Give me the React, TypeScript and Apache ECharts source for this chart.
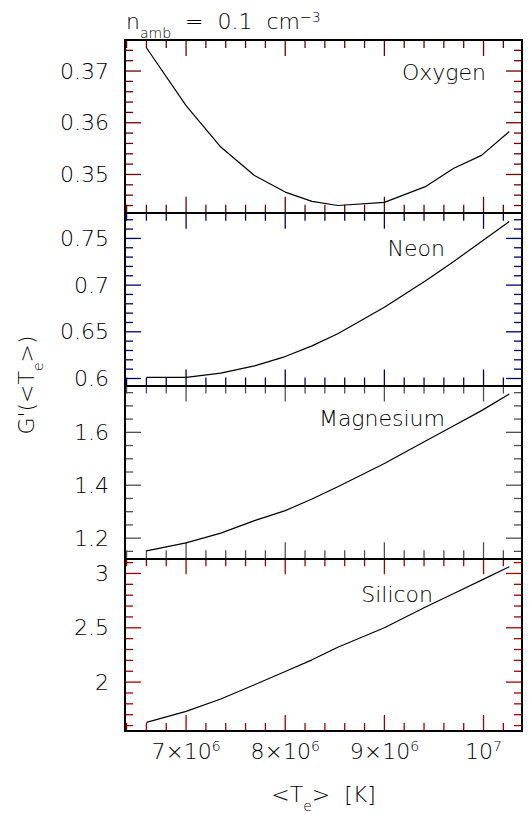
import React, { useEffect, useRef } from "react";
import * as echarts from "echarts";

// <Te> values (K) of the model points
const temps = [6.6e6, 7.0e6, 7.35e6, 7.69e6, 8.0e6, 8.27e6, 8.53e6, 9.0e6, 9.42e6, 9.7e6, 9.98e6, 10.26e6];
const oxygen = [0.3745, 0.3633, 0.3553, 0.3498, 0.3466, 0.3448, 0.344, 0.3446, 0.3477, 0.3512, 0.3537, 0.3583];
const neon = [0.6011, 0.6011, 0.6057, 0.6135, 0.6235, 0.6349, 0.648, 0.6763, 0.705, 0.7254, 0.7468, 0.7681];
const magnesium = [1.152, 1.182, 1.219, 1.266, 1.304, 1.348, 1.394, 1.482, 1.568, 1.625, 1.682, 1.745];
const silicon = [1.63, 1.731, 1.844, 1.976, 2.098, 2.205, 2.321, 2.5, 2.693, 2.815, 2.939, 3.061];

const elementNames = ["Oxygen", "Neon", "Magnesium", "Silicon"];
const xRange = [6.384e6, 1.0388e7];
const xMajorTicks = [7e6, 8e6, 9e6, 1e7];
const xMinorStep = 0.2e6;

const yRanges = [
  [0.3426, 0.376],
  [0.5925, 0.7775],
  [1.124, 1.777],
  [1.55, 3.14],
];
const yMajorTicks = [
  [0.35, 0.36, 0.37],
  [0.6, 0.65, 0.7, 0.75],
  [1.2, 1.4, 1.6],
  [2, 2.5, 3],
];
const yMinorSteps = [0.002, 0.01, 0.05, 0.1];

const FONT = "DejaVu Sans";
const FW = 200;
const GRID_TOP = 40;
const GRID_H = 172.75;
const LEFT = 125;
const RIGHT = 10;
const MAJOR_LEN = 16;
const MINOR_LEN = 8;
const TICK_W = 1.3;
const FRAME_W = 2;
const TICK_COLS = ["#700000", "#000070", "#505050", "#a00000"];

function steps(lo: number, hi: number, step: number): number[] {
  const out: number[] = [];
  const start = Math.ceil(lo / step - 1e-9);
  const end = Math.floor(hi / step + 1e-9);
  for (let k = start; k <= end; k++) {
    const v = +(k * step).toFixed(6);
    if (v > lo && v < hi) out.push(v);
  }
  return out;
}

const lineCol = "#000";

function buildOption() {
  const datasets = [oxygen, neon, magnesium, silicon];
  const grids: any[] = [];
  const xAxes: any[] = [];
  const yAxes: any[] = [];
  const seriesList: any[] = [];

  datasets.forEach((vals, i) => {
    grids.push({ left: LEFT, right: RIGHT, top: GRID_TOP + i * GRID_H, height: GRID_H });
    const isLast = i === datasets.length - 1;
    xAxes.push(
      {
        type: "value",
        gridIndex: i,
        position: "bottom",
        min: xRange[0],
        max: xRange[1],
        axisLine: { show: true, onZero: false, lineStyle: { color: lineCol, width: FRAME_W } },
        axisTick: { show: false },
        axisLabel: isLast
          ? {
              show: true,
              customValues: xMajorTicks,
              margin: 8,
              formatter: (v: number) =>
                v === 1e7 ? "{b|10}{p|7}" : "{b|" + Math.round(v / 1e6) + "×10}{p|6}",
              rich: {
                b: { fontSize: 22, fontFamily: FONT, fontWeight: FW, color: "#000" },
                p: { fontSize: 14, fontFamily: FONT, fontWeight: FW, color: "#000", padding: [0, 0, 10, 0] },
              },
            }
          : { show: false },
        splitLine: { show: false },
        name: isLast ? "{b|<T}{s|e}{b|>  [K]}" : "",
        nameLocation: "middle",
        nameGap: 52,
        nameTextStyle: {
          rich: {
            b: { fontSize: 22, fontFamily: FONT, fontWeight: FW, color: "#000", lineHeight: 22, verticalAlign: "top" },
            s: { fontSize: 14, fontFamily: FONT, fontWeight: FW, color: "#000", padding: [16, 0, 0, 0], verticalAlign: "top" },
          },
        },
      },
      {
        type: "value",
        gridIndex: i,
        position: "top",
        min: xRange[0],
        max: xRange[1],
        axisLine: { show: true, onZero: false, lineStyle: { color: lineCol, width: FRAME_W } },
        axisTick: { show: false },
        axisLabel: { show: false },
        splitLine: { show: false },
      }
    );
    yAxes.push(
      {
        type: "value",
        gridIndex: i,
        position: "left",
        min: yRanges[i][0],
        max: yRanges[i][1],
        axisLine: { show: true, onZero: false, lineStyle: { color: lineCol, width: FRAME_W } },
        axisTick: { show: false },
        axisLabel: {
          show: true,
          customValues: yMajorTicks[i],
          margin: 16,
          fontSize: 22,
          fontFamily: FONT,
          fontWeight: FW,
          color: "#000",
          formatter: (v: number) => String(v),
        },
        splitLine: { show: false },
      },
      {
        type: "value",
        gridIndex: i,
        position: "right",
        min: yRanges[i][0],
        max: yRanges[i][1],
        axisLine: { show: true, onZero: false, lineStyle: { color: lineCol, width: FRAME_W } },
        axisTick: { show: false },
        axisLabel: { show: false },
        splitLine: { show: false },
      }
    );
    seriesList.push({
      type: "line",
      name: elementNames[i],
      xAxisIndex: 2 * i,
      yAxisIndex: 2 * i,
      data: temps.map((t, k) => [t, vals[k]]),
      symbol: "none",
      showSymbol: false,
      lineStyle: { color: lineCol, width: 1.2 },
      silent: true,
      z: 6,
    });
  });

  return {
    animation: false,
    backgroundColor: "#fff",
    grid: grids,
    xAxis: xAxes,
    yAxis: yAxes,
    series: seriesList,
  };
}

// Inward tick marks on all four sides of a panel, placed through the axes' scales
function graphicTicks(chart: any, i: number) {
  const out: any[] = [];
  const [ymin, ymax] = yRanges[i];
  const [xmin, xmax] = xRange;
  const finder = { xAxisIndex: 2 * i, yAxisIndex: 2 * i };
  const px = (x: number, y: number) => chart.convertToPixel(finder, [x, y]);
  const xMinor = steps(xmin, xmax, xMinorStep).filter((v) => !xMajorTicks.some((m) => Math.abs(m - v) < 1));
  const yMinor = steps(ymin, ymax, yMinorSteps[i]).filter(
    (v) => !yMajorTicks[i].some((m) => Math.abs(m - v) < 1e-9)
  );
  const h = TICK_W / 2;
  const seg = (x1: number, y1: number, x2: number, y2: number) => {
    const vertical = Math.abs(x1 - x2) < 1e-6;
    out.push({
      type: "rect",
      shape: {
        x: Math.min(x1, x2) - (vertical ? h : 0),
        y: Math.min(y1, y2) - (vertical ? 0 : h),
        width: vertical ? TICK_W : Math.abs(x2 - x1),
        height: vertical ? Math.abs(y2 - y1) : TICK_W,
      },
      style: { fill: TICK_COLS[i] },
    });
  };
  const addX = (v: number, len: number) => {
    const b = px(v, ymin);
    const t = px(v, ymax);
    seg(b[0], b[1], b[0], b[1] - len);
    seg(t[0], t[1], t[0], t[1] + len);
  };
  const addY = (v: number, len: number) => {
    const l = px(xmin, v);
    const r = px(xmax, v);
    seg(l[0], l[1], l[0] + len, l[1]);
    seg(r[0], r[1], r[0] - len, r[1]);
  };
  xMajorTicks.forEach((v) => addX(v, MAJOR_LEN));
  xMinor.forEach((v) => addX(v, MINOR_LEN));
  yMajorTicks[i].forEach((v) => addY(v, MAJOR_LEN));
  yMinor.forEach((v) => addY(v, MINOR_LEN));
  return out;
}

function buildTexts() {
  const labelPos = [
    [486, 72],
    [445, 248],
    [445, 418],
    [433, 594],
  ];
  const graphics: any[] = elementNames.map((n, i) => ({
    type: "text",
    x: labelPos[i][0],
    y: labelPos[i][1],
    style: {
      text: n,
      fontSize: 22,
      fontFamily: FONT,
      fontWeight: FW,
      fill: "#000",
      align: "right",
      verticalAlign: "middle",
    },
  }));

  graphics.push({
    type: "text",
    x: 126,
    y: 10,
    style: {
      text: "{a|n}{s|amb}{a|  =  0.1  cm}{p|−3}",
      align: "left",
      verticalAlign: "top",
      rich: {
        a: { fontSize: 22, fontFamily: FONT, fontWeight: FW, fill: "#000", lineHeight: 22, verticalAlign: "top" },
        s: { fontSize: 14, fontFamily: FONT, fontWeight: FW, fill: "#000", padding: [16, 0, 0, 0], verticalAlign: "top" },
        p: { fontSize: 14, fontFamily: FONT, fontWeight: FW, fill: "#000", verticalAlign: "top" },
      },
    },
  });

  graphics.push({
    type: "text",
    x: 30,
    y: 385,
    rotation: Math.PI / 2,
    style: {
      text: "{a|G'(<T}{s|e}{a|>)}",
      align: "center",
      verticalAlign: "middle",
      rich: {
        a: { fontSize: 22, fontFamily: FONT, fontWeight: FW, fill: "#000", lineHeight: 22, verticalAlign: "top" },
        s: { fontSize: 14, fontFamily: FONT, fontWeight: FW, fill: "#000", padding: [16, 0, 0, 0], verticalAlign: "top" },
      },
    },
  });
  return graphics;
}

export default function App() {
  const ref = useRef<HTMLDivElement>(null);
  useEffect(() => {
    if (!ref.current) return;
    const chart = echarts.init(ref.current, null, { renderer: "svg" });
    chart.setOption(buildOption() as any);
    const graphics = [
      ...buildTexts(),
      ...graphicTicks(chart, 0),
      ...graphicTicks(chart, 1),
      ...graphicTicks(chart, 2),
      ...graphicTicks(chart, 3),
    ];
    chart.setOption({ graphic: graphics } as any);
    return () => chart.dispose();
  }, []);
  return (
    <div
      ref={ref}
      style={{ position: "fixed", left: 0, top: 0, width: 532, height: 821, background: "#fff" }}
    />
  );
}
